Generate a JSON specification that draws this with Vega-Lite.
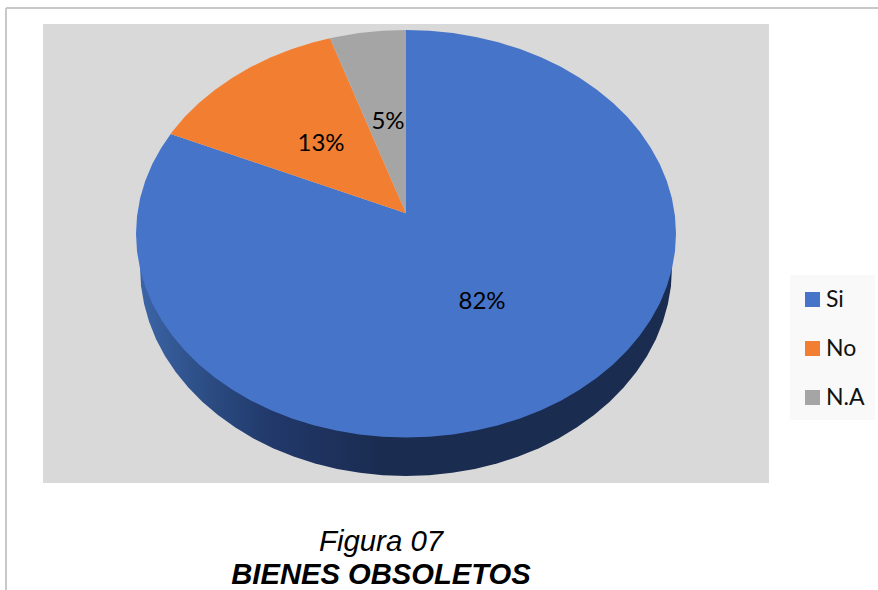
{
  "$schema": "https://vega.github.io/schema/vega-lite/v6.json",
  "width": 878,
  "height": 590,
  "padding": 0,
  "autosize": "none",
  "background": "#ffffff",
  "view": {"stroke": null},
  "datasets": {
    "frame": [
      {"x": -1.4815, "x2": 1.7481, "y": 1.108, "y2": 1.108},
      {"x": -1.4815, "x2": -1.4815, "y": 1.108, "y2": -1.7485}
    ],
    "plotArea": [{"x": -1.3444, "x2": 1.3444, "y": 1.0294, "y2": -1.2233}],
    "legendBox": [{"x": 1.4222, "x2": 1.737, "y": -0.2025, "y2": -0.9141}],
    "rim": [
      {"i":0,"x":0.985,"y":-0.1681},{"i":1,"x":0.9813,"y":-0.2571},{"i":2,"x":0.97,"y":-0.3453},{"i":3,"x":0.9514,"y":-0.4323},
      {"i":4,"x":0.9256,"y":-0.5173},{"i":5,"x":0.8927,"y":-0.5995},{"i":6,"x":0.853,"y":-0.6786},{"i":7,"x":0.8069,"y":-0.7537},
      {"i":8,"x":0.7545,"y":-0.8243},{"i":9,"x":0.6965,"y":-0.89},{"i":10,"x":0.6332,"y":-0.9501},{"i":11,"x":0.565,"y":-1.0044},
      {"i":12,"x":0.4925,"y":-1.0522},{"i":13,"x":0.4163,"y":-1.0933},{"i":14,"x":0.3369,"y":-1.1274},{"i":15,"x":0.2549,"y":-1.1542},
      {"i":16,"x":0.171,"y":-1.1735},{"i":17,"x":0.0859,"y":-1.1851},{"i":18,"x":0,"y":-1.189},
      {"i":19,"x":-0.0859,"y":-1.1851},{"i":20,"x":-0.171,"y":-1.1735},{"i":21,"x":-0.2549,"y":-1.1542},{"i":22,"x":-0.3369,"y":-1.1274},
      {"i":23,"x":-0.4163,"y":-1.0933},{"i":24,"x":-0.4925,"y":-1.0522},{"i":25,"x":-0.565,"y":-1.0044},{"i":26,"x":-0.6332,"y":-0.9501},
      {"i":27,"x":-0.6965,"y":-0.89},{"i":28,"x":-0.7545,"y":-0.8243},{"i":29,"x":-0.8069,"y":-0.7537},{"i":30,"x":-0.853,"y":-0.6786},
      {"i":31,"x":-0.8927,"y":-0.5995},{"i":32,"x":-0.9256,"y":-0.5173},{"i":33,"x":-0.9514,"y":-0.4323},{"i":34,"x":-0.97,"y":-0.3453},
      {"i":35,"x":-0.9813,"y":-0.2571},{"i":36,"x":-0.985,"y":-0.1681}
    ],
    "slices": [
      {"answer":"Si","i":0,"x":0,"y":0.1004},
      {"answer":"Si","i":1,"x":0,"y":1},{"answer":"Si","i":2,"x":0.0872,"y":0.9962},{"answer":"Si","i":3,"x":0.1736,"y":0.9848},
      {"answer":"Si","i":4,"x":0.2588,"y":0.9659},{"answer":"Si","i":5,"x":0.342,"y":0.9397},{"answer":"Si","i":6,"x":0.4226,"y":0.9063},
      {"answer":"Si","i":7,"x":0.5,"y":0.866},{"answer":"Si","i":8,"x":0.5736,"y":0.8192},{"answer":"Si","i":9,"x":0.6428,"y":0.766},
      {"answer":"Si","i":10,"x":0.7071,"y":0.7071},{"answer":"Si","i":11,"x":0.766,"y":0.6428},{"answer":"Si","i":12,"x":0.8192,"y":0.5736},
      {"answer":"Si","i":13,"x":0.866,"y":0.5},{"answer":"Si","i":14,"x":0.9063,"y":0.4226},{"answer":"Si","i":15,"x":0.9397,"y":0.342},
      {"answer":"Si","i":16,"x":0.9659,"y":0.2588},{"answer":"Si","i":17,"x":0.9848,"y":0.1736},{"answer":"Si","i":18,"x":0.9962,"y":0.0872},
      {"answer":"Si","i":19,"x":1,"y":0},{"answer":"Si","i":20,"x":0.9962,"y":-0.0872},{"answer":"Si","i":21,"x":0.9848,"y":-0.1736},
      {"answer":"Si","i":22,"x":0.9659,"y":-0.2588},{"answer":"Si","i":23,"x":0.9397,"y":-0.342},{"answer":"Si","i":24,"x":0.9063,"y":-0.4226},
      {"answer":"Si","i":25,"x":0.866,"y":-0.5},{"answer":"Si","i":26,"x":0.8192,"y":-0.5736},{"answer":"Si","i":27,"x":0.766,"y":-0.6428},
      {"answer":"Si","i":28,"x":0.7071,"y":-0.7071},{"answer":"Si","i":29,"x":0.6428,"y":-0.766},{"answer":"Si","i":30,"x":0.5736,"y":-0.8192},
      {"answer":"Si","i":31,"x":0.5,"y":-0.866},{"answer":"Si","i":32,"x":0.4226,"y":-0.9063},{"answer":"Si","i":33,"x":0.342,"y":-0.9397},
      {"answer":"Si","i":34,"x":0.2588,"y":-0.9659},{"answer":"Si","i":35,"x":0.1736,"y":-0.9848},{"answer":"Si","i":36,"x":0.0872,"y":-0.9962},
      {"answer":"Si","i":37,"x":0,"y":-1},{"answer":"Si","i":38,"x":-0.0872,"y":-0.9962},{"answer":"Si","i":39,"x":-0.1736,"y":-0.9848},
      {"answer":"Si","i":40,"x":-0.2588,"y":-0.9659},{"answer":"Si","i":41,"x":-0.342,"y":-0.9397},{"answer":"Si","i":42,"x":-0.4226,"y":-0.9063},
      {"answer":"Si","i":43,"x":-0.5,"y":-0.866},{"answer":"Si","i":44,"x":-0.5736,"y":-0.8192},{"answer":"Si","i":45,"x":-0.6428,"y":-0.766},
      {"answer":"Si","i":46,"x":-0.7071,"y":-0.7071},{"answer":"Si","i":47,"x":-0.766,"y":-0.6428},{"answer":"Si","i":48,"x":-0.8192,"y":-0.5736},
      {"answer":"Si","i":49,"x":-0.866,"y":-0.5},{"answer":"Si","i":50,"x":-0.9063,"y":-0.4226},{"answer":"Si","i":51,"x":-0.9397,"y":-0.342},
      {"answer":"Si","i":52,"x":-0.9659,"y":-0.2588},{"answer":"Si","i":53,"x":-0.9848,"y":-0.1736},{"answer":"Si","i":54,"x":-0.9962,"y":-0.0872},
      {"answer":"Si","i":55,"x":-1,"y":0},{"answer":"Si","i":56,"x":-0.9962,"y":0.0872},{"answer":"Si","i":57,"x":-0.9848,"y":0.1736},
      {"answer":"Si","i":58,"x":-0.9659,"y":0.2588},{"answer":"Si","i":59,"x":-0.9397,"y":0.342},{"answer":"Si","i":60,"x":-0.9063,"y":0.4226},
      {"answer":"Si","i":61,"x":-0.8715,"y":0.49},
      {"answer":"No","i":0,"x":0,"y":0.1004},{"answer":"No","i":1,"x":-0.8715,"y":0.49},{"answer":"No","i":2,"x":-0.866,"y":0.5},
      {"answer":"No","i":3,"x":-0.8192,"y":0.5736},{"answer":"No","i":4,"x":-0.766,"y":0.6428},{"answer":"No","i":5,"x":-0.7071,"y":0.7071},
      {"answer":"No","i":6,"x":-0.6428,"y":0.766},{"answer":"No","i":7,"x":-0.5736,"y":0.8192},{"answer":"No","i":8,"x":-0.5,"y":0.866},
      {"answer":"No","i":9,"x":-0.4226,"y":0.9063},{"answer":"No","i":10,"x":-0.342,"y":0.9397},{"answer":"No","i":11,"x":-0.2815,"y":0.9596},
      {"answer":"N.A","i":0,"x":0,"y":0.1004},{"answer":"N.A","i":1,"x":-0.2815,"y":0.9596},{"answer":"N.A","i":2,"x":-0.2588,"y":0.9659},
      {"answer":"N.A","i":3,"x":-0.1736,"y":0.9848},{"answer":"N.A","i":4,"x":-0.0872,"y":0.9962},{"answer":"N.A","i":5,"x":0,"y":1}
    ],
    "shares": [
      {"answer":"Si","share":0.82,"x":0.2815,"y":-0.335},
      {"answer":"No","share":0.13,"x":-0.3148,"y":0.4404},
      {"answer":"N.A","share":0.05,"x":-0.0667,"y":0.5484}
    ],
    "figureLine": [{"text":"Figura 07","x":-0.0926,"y":-1.557}],
    "titleLine": [{"text":"BIENES OBSOLETOS","x":-0.0926,"y":-1.719}]
  },
  "encoding": {
    "x": {"field": "x", "type": "quantitative", "axis": null, "scale": {"domain": [-1.5037, 1.7481], "nice": false, "zero": false}},
    "y": {"field": "y", "type": "quantitative", "axis": null, "scale": {"domain": [-1.7485, 1.1472], "nice": false, "zero": false}}
  },
  "layer": [
    {
      "data": {"name": "frame"},
      "mark": {"type": "rule", "color": "#c8c8c8", "strokeWidth": 2},
      "encoding": {"x2": {"field": "x2"}, "y2": {"field": "y2"}}
    },
    {
      "data": {"name": "plotArea"},
      "mark": {"type": "rect", "color": "#d9d9d9"},
      "encoding": {"x2": {"field": "x2"}, "y2": {"field": "y2"}}
    },
    {
      "data": {"name": "legendBox"},
      "mark": {"type": "rect", "color": "#f9f9f9"},
      "encoding": {"x2": {"field": "x2"}, "y2": {"field": "y2"}}
    },
    {
      "data": {"name": "rim"},
      "mark": {
        "type": "line",
        "strokeWidth": 0,
        "fill": {
          "gradient": "linear", "x1": 0, "y1": 0, "x2": 1, "y2": 0,
          "stops": [
            {"offset": 0, "color": "#3c64a6"},
            {"offset": 0.14, "color": "#2a4a80"},
            {"offset": 0.25, "color": "#21386a"},
            {"offset": 0.45, "color": "#1a2c50"},
            {"offset": 1, "color": "#1a2c50"}
          ]
        }
      },
      "encoding": {"order": {"field": "i", "type": "quantitative"}}
    },
    {
      "data": {"name": "slices"},
      "mark": {"type": "line", "strokeWidth": 0},
      "encoding": {
        "order": {"field": "i", "type": "quantitative"},
        "fill": {
          "field": "answer",
          "type": "nominal",
          "scale": {"domain": ["Si", "No", "N.A"], "range": ["#4674c8", "#f27f31", "#a5a5a5"]},
          "legend": {
            "title": null,
            "orient": "none",
            "legendX": 801,
            "legendY": 288,
            "padding": 0,
            "symbolType": "square",
            "symbolSize": 225,
            "symbolStrokeWidth": 0,
            "rowPadding": 25,
            "labelFont": "Lato",
            "labelFontSize": 23,
            "labelColor": "#111111",
            "labelOffset": 2
          }
        }
      }
    },
    {
      "data": {"name": "shares"},
      "mark": {"type": "text", "font": "Lato", "fontSize": 24, "color": "#000000"},
      "encoding": {"text": {"field": "share", "type": "quantitative", "format": ".0%"}}
    },
    {
      "data": {"name": "figureLine"},
      "mark": {"type": "text", "font": "Liberation Sans", "fontSize": 29.4, "fontStyle": "italic", "baseline": "alphabetic", "color": "#000000"},
      "encoding": {"text": {"field": "text"}}
    },
    {
      "data": {"name": "titleLine"},
      "mark": {"type": "text", "font": "Liberation Sans", "fontSize": 29.2, "fontStyle": "italic", "fontWeight": "bold", "baseline": "alphabetic", "color": "#000000"},
      "encoding": {"text": {"field": "text"}}
    }
  ]
}
